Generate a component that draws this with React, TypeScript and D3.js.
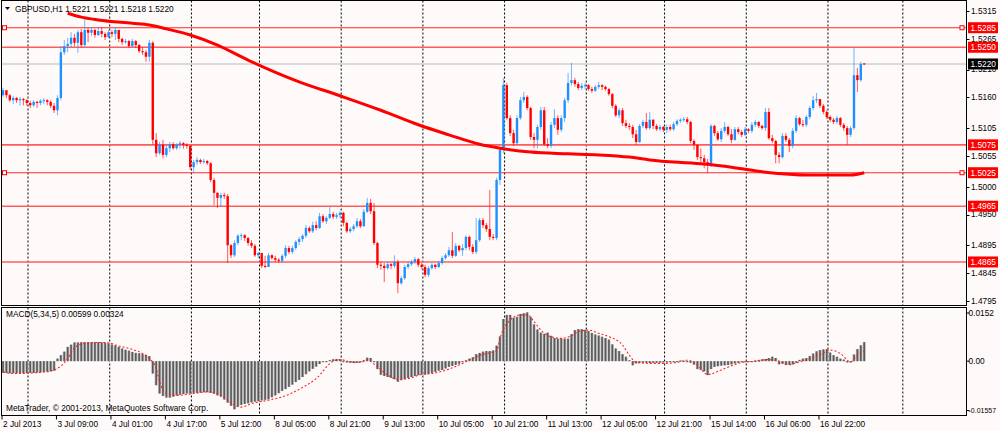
import React from 'react';
import * as d3 from 'd3';

// ---------- DATA ----------
const opens = [1.5164,1.5173,1.5164,1.5155,1.5159,1.5155,1.5157,1.5155,1.5150,1.5146,1.5152,1.5150,1.5154,1.5155,1.5152,1.5145,1.5137,1.5159,1.5241,1.5252,1.5256,1.5267,1.5258,1.5277,1.5254,1.5281,1.5276,1.5281,1.5272,1.5279,1.5274,1.5268,1.5277,1.5274,1.5281,1.5265,1.5259,1.5261,1.5252,1.5261,1.5254,1.5243,1.5241,1.5233,1.5258,1.5084,1.5060,1.5075,1.5057,1.5069,1.5076,1.5069,1.5075,1.5078,1.5075,1.5073,1.5035,1.5044,1.5048,1.5044,1.5046,1.5042,1.5012,1.4989,1.4980,1.4985,1.4983,1.4895,1.4877,1.4899,1.4912,1.4913,1.4908,1.4899,1.4894,1.4877,1.4881,1.4858,1.4856,1.4877,1.4872,1.4869,1.4867,1.4876,1.4890,1.4883,1.4890,1.4901,1.4906,1.4912,1.4926,1.4920,1.4931,1.4926,1.4947,1.4938,1.4944,1.4951,1.4946,1.4949,1.4953,1.4935,1.4920,1.4924,1.4929,1.4938,1.4929,1.4955,1.4971,1.4956,1.4899,1.4860,1.4858,1.4854,1.4861,1.4858,1.4865,1.4827,1.4836,1.4856,1.4861,1.4865,1.4870,1.4860,1.4856,1.4842,1.4854,1.4860,1.4856,1.4863,1.4872,1.4877,1.4886,1.4876,1.4894,1.4886,1.4890,1.4910,1.4892,1.4883,1.4904,1.4940,1.4931,1.4924,1.4910,1.4908,1.5012,1.5066,1.5182,1.5123,1.5096,1.5078,1.5123,1.5155,1.5161,1.5141,1.5089,1.5084,1.5107,1.5137,1.5076,1.5073,1.5111,1.5123,1.5102,1.5123,1.5155,1.5186,1.5191,1.5184,1.5177,1.5181,1.5182,1.5175,1.5172,1.5179,1.5182,1.5179,1.5175,1.5166,1.5145,1.5128,1.5137,1.5114,1.5109,1.5107,1.5094,1.5080,1.5109,1.5116,1.5105,1.5120,1.5109,1.5103,1.5107,1.5102,1.5107,1.5103,1.5112,1.5118,1.5120,1.5121,1.5116,1.5082,1.5075,1.5053,1.5051,1.5044,1.5039,1.5109,1.5096,1.5085,1.5100,1.5107,1.5094,1.5084,1.5103,1.5098,1.5093,1.5103,1.5100,1.5111,1.5116,1.5109,1.5105,1.5134,1.5087,1.5082,1.5057,1.5053,1.5091,1.5084,1.5073,1.5100,1.5123,1.5112,1.5111,1.5125,1.5141,1.5155,1.5157,1.5145,1.5134,1.5125,1.5120,1.5116,1.5123,1.5111,1.5105,1.5093,1.5105,1.5200,1.5191,1.5221];
const highs = [1.5177,1.5173,1.5166,1.5163,1.5161,1.5161,1.5159,1.5157,1.5154,1.5155,1.5154,1.5157,1.5159,1.5157,1.5155,1.5150,1.5164,1.5252,1.5263,1.5267,1.5277,1.5274,1.5281,1.5283,1.5302,1.5285,1.5286,1.5283,1.5285,1.5286,1.5277,1.5281,1.5281,1.5285,1.5281,1.5267,1.5265,1.5263,1.5265,1.5263,1.5256,1.5250,1.5245,1.5263,1.5261,1.5096,1.5080,1.5084,1.5075,1.5080,1.5080,1.5078,1.5082,1.5080,1.5078,1.5075,1.5048,1.5053,1.5050,1.5050,1.5048,1.5044,1.5016,1.4990,1.4989,1.4989,1.4987,1.4897,1.4904,1.4915,1.4917,1.4915,1.4910,1.4904,1.4897,1.4883,1.4881,1.4876,1.4881,1.4879,1.4876,1.4872,1.4879,1.4895,1.4894,1.4894,1.4904,1.4910,1.4915,1.4931,1.4929,1.4937,1.4938,1.4953,1.4951,1.4947,1.4964,1.4955,1.4953,1.4956,1.4955,1.4937,1.4928,1.4933,1.4944,1.4942,1.4960,1.4980,1.4978,1.4971,1.4901,1.4865,1.4863,1.4865,1.4863,1.4877,1.4869,1.4840,1.4860,1.4865,1.4869,1.4874,1.4872,1.4863,1.4860,1.4858,1.4863,1.4861,1.4867,1.4876,1.4881,1.4892,1.4919,1.4899,1.4895,1.4897,1.4913,1.4912,1.4897,1.4944,1.4944,1.4944,1.4935,1.4994,1.4915,1.5016,1.5069,1.5195,1.5186,1.5128,1.5102,1.5128,1.5161,1.5170,1.5164,1.5143,1.5096,1.5111,1.5143,1.5143,1.5087,1.5116,1.5139,1.5128,1.5128,1.5159,1.5204,1.5222,1.5195,1.5188,1.5186,1.5186,1.5184,1.5179,1.5182,1.5188,1.5184,1.5181,1.5177,1.5168,1.5148,1.5141,1.5141,1.5120,1.5114,1.5111,1.5102,1.5112,1.5120,1.5132,1.5134,1.5121,1.5112,1.5111,1.5109,1.5111,1.5111,1.5116,1.5121,1.5123,1.5125,1.5125,1.5118,1.5085,1.5076,1.5069,1.5057,1.5050,1.5112,1.5111,1.5100,1.5105,1.5116,1.5109,1.5103,1.5107,1.5107,1.5102,1.5107,1.5105,1.5116,1.5120,1.5118,1.5111,1.5141,1.5141,1.5093,1.5084,1.5062,1.5096,1.5096,1.5087,1.5105,1.5128,1.5125,1.5120,1.5128,1.5145,1.5163,1.5168,1.5157,1.5148,1.5137,1.5128,1.5123,1.5127,1.5125,1.5114,1.5109,1.5109,1.5249,1.5213,1.5224,1.5221];
const lows = [1.5161,1.5159,1.5152,1.5148,1.5150,1.5145,1.5146,1.5145,1.5141,1.5143,1.5141,1.5146,1.5148,1.5146,1.5141,1.5132,1.5128,1.5155,1.5236,1.5241,1.5249,1.5252,1.5240,1.5250,1.5250,1.5259,1.5270,1.5267,1.5270,1.5268,1.5263,1.5267,1.5268,1.5263,1.5259,1.5254,1.5256,1.5249,1.5250,1.5249,1.5240,1.5236,1.5224,1.5224,1.5075,1.5053,1.5057,1.5051,1.5053,1.5062,1.5066,1.5066,1.5068,1.5068,1.5068,1.5030,1.5025,1.5039,1.5041,1.5041,1.5039,1.5008,1.4967,1.4962,1.4964,1.4978,1.4863,1.4872,1.4874,1.4895,1.4904,1.4903,1.4894,1.4890,1.4874,1.4872,1.4854,1.4854,1.4856,1.4869,1.4865,1.4863,1.4863,1.4872,1.4879,1.4879,1.4886,1.4895,1.4901,1.4908,1.4917,1.4917,1.4922,1.4924,1.4935,1.4933,1.4942,1.4942,1.4942,1.4944,1.4929,1.4917,1.4917,1.4920,1.4926,1.4926,1.4928,1.4953,1.4951,1.4895,1.4854,1.4851,1.4829,1.4851,1.4852,1.4854,1.4809,1.4824,1.4833,1.4852,1.4858,1.4861,1.4856,1.4852,1.4838,1.4838,1.4851,1.4852,1.4854,1.4860,1.4869,1.4874,1.4872,1.4874,1.4883,1.4876,1.4886,1.4886,1.4879,1.4879,1.4901,1.4926,1.4919,1.4904,1.4904,1.4904,1.5003,1.5060,1.5120,1.5091,1.5073,1.5075,1.5120,1.5150,1.5137,1.5084,1.5069,1.5069,1.5102,1.5073,1.5069,1.5069,1.5105,1.5093,1.5098,1.5116,1.5150,1.5181,1.5179,1.5173,1.5173,1.5175,1.5172,1.5168,1.5170,1.5175,1.5173,1.5172,1.5163,1.5141,1.5125,1.5123,1.5109,1.5105,1.5102,1.5087,1.5075,1.5078,1.5105,1.5102,1.5102,1.5103,1.5100,1.5100,1.5098,1.5096,1.5100,1.5100,1.5109,1.5114,1.5116,1.5112,1.5078,1.5066,1.5048,1.5044,1.5033,1.5025,1.5035,1.5091,1.5082,1.5080,1.5096,1.5091,1.5078,1.5082,1.5094,1.5089,1.5091,1.5096,1.5096,1.5107,1.5105,1.5102,1.5100,1.5084,1.5078,1.5042,1.5042,1.5050,1.5080,1.5062,1.5069,1.5096,1.5109,1.5107,1.5107,1.5121,1.5137,1.5150,1.5141,1.5130,1.5121,1.5116,1.5112,1.5112,1.5107,1.5100,1.5075,1.5089,1.5102,1.5170,1.5188,1.5218];
const closes = [1.5173,1.5164,1.5155,1.5159,1.5155,1.5157,1.5155,1.5150,1.5146,1.5152,1.5150,1.5154,1.5155,1.5152,1.5145,1.5137,1.5159,1.5241,1.5252,1.5256,1.5267,1.5258,1.5277,1.5254,1.5281,1.5276,1.5281,1.5272,1.5279,1.5274,1.5268,1.5277,1.5274,1.5281,1.5265,1.5259,1.5261,1.5252,1.5261,1.5254,1.5243,1.5241,1.5233,1.5258,1.5084,1.5060,1.5075,1.5057,1.5069,1.5076,1.5069,1.5075,1.5078,1.5075,1.5073,1.5035,1.5044,1.5048,1.5044,1.5046,1.5042,1.5012,1.4989,1.4980,1.4985,1.4983,1.4895,1.4877,1.4899,1.4912,1.4913,1.4908,1.4899,1.4894,1.4877,1.4881,1.4858,1.4856,1.4877,1.4872,1.4869,1.4867,1.4876,1.4890,1.4883,1.4890,1.4901,1.4906,1.4912,1.4926,1.4920,1.4931,1.4926,1.4947,1.4938,1.4944,1.4951,1.4946,1.4949,1.4953,1.4935,1.4920,1.4924,1.4929,1.4938,1.4929,1.4955,1.4971,1.4956,1.4899,1.4860,1.4858,1.4854,1.4861,1.4858,1.4865,1.4827,1.4836,1.4856,1.4861,1.4865,1.4870,1.4860,1.4856,1.4842,1.4854,1.4860,1.4856,1.4863,1.4872,1.4877,1.4886,1.4876,1.4894,1.4886,1.4890,1.4910,1.4892,1.4883,1.4904,1.4940,1.4931,1.4924,1.4910,1.4908,1.5012,1.5066,1.5182,1.5123,1.5096,1.5078,1.5123,1.5155,1.5161,1.5141,1.5089,1.5084,1.5107,1.5137,1.5076,1.5073,1.5111,1.5123,1.5102,1.5123,1.5155,1.5186,1.5191,1.5184,1.5177,1.5181,1.5182,1.5175,1.5172,1.5179,1.5182,1.5179,1.5175,1.5166,1.5145,1.5128,1.5137,1.5114,1.5109,1.5107,1.5094,1.5080,1.5109,1.5116,1.5105,1.5120,1.5109,1.5103,1.5107,1.5102,1.5107,1.5103,1.5112,1.5118,1.5120,1.5121,1.5116,1.5082,1.5075,1.5053,1.5051,1.5044,1.5039,1.5109,1.5096,1.5085,1.5100,1.5107,1.5094,1.5084,1.5103,1.5098,1.5093,1.5103,1.5100,1.5111,1.5116,1.5109,1.5105,1.5134,1.5087,1.5082,1.5057,1.5053,1.5091,1.5084,1.5073,1.5100,1.5123,1.5112,1.5111,1.5125,1.5141,1.5155,1.5157,1.5145,1.5134,1.5125,1.5120,1.5116,1.5123,1.5111,1.5105,1.5093,1.5105,1.5200,1.5191,1.5220,1.5220];

const maBars = [19,23,28,38,43,48,55,63,72,87,99,111,122,131,140,146,155,166,175,184,190,205,214,224,237,249,253];
const maValues = [1.5311,1.5304,1.5299,1.5293,1.5290,1.5283,1.5272,1.5254,1.5227,1.5188,1.5163,1.5137,1.5111,1.5093,1.5076,1.5069,1.5062,1.5059,1.5057,1.5053,1.5048,1.5041,1.5035,1.5026,1.5021,1.5021,1.5025];

const macdHist = [-0.0037,-0.0037,-0.0038,-0.0038,-0.0038,-0.0038,-0.0038,-0.0038,-0.0037,-0.0037,-0.0036,-0.0035,-0.0034,-0.0033,-0.0032,-0.0030,
0.0008,0.0019,0.0030,0.0045,0.0052,0.0059,0.0059,0.0060,0.0060,0.0060,0.0060,0.0060,0.0060,0.0059,0.0058,0.0056,
0.0052,0.0049,0.0045,0.0040,0.0036,0.0033,0.0029,0.0026,0.0025,0.0022,0.0020,0.0016,-0.0039,-0.0076,-0.0102,-0.0110,
-0.0115,-0.0115,-0.0112,-0.0108,-0.0106,-0.0104,-0.0102,-0.0101,-0.0100,-0.0100,-0.0099,-0.0098,-0.0098,-0.0100,-0.0103,-0.0108,
-0.0112,-0.0121,-0.0131,-0.0141,-0.0152,-0.0143,-0.0138,-0.0135,-0.0133,-0.0130,-0.0128,-0.0126,-0.0124,-0.0122,-0.0120,-0.0114,
-0.0108,-0.0101,-0.0094,-0.0088,-0.0081,-0.0074,-0.0066,-0.0059,-0.0050,-0.0041,-0.0032,-0.0024,-0.0017,-0.0009,-0.0003,0.0000,
0.0003,0.0006,0.0007,0.0006,-0.0001,-0.0004,-0.0005,-0.0006,-0.0005,-0.0002,0.0003,0.0011,0.0010,-0.0001,-0.0025,-0.0043,
-0.0047,-0.0050,-0.0053,-0.0057,-0.0065,-0.0060,-0.0057,-0.0053,-0.0050,-0.0047,-0.0044,-0.0042,-0.0042,-0.0040,-0.0037,-0.0034,
-0.0030,-0.0028,-0.0023,-0.0018,-0.0015,-0.0012,-0.0008,-0.0003,0.0003,0.0008,0.0012,0.0022,0.0026,0.0030,0.0032,0.0032,
0.0034,0.0049,0.0078,0.0133,0.0146,0.0146,0.0137,0.0140,0.0149,0.0151,0.0154,0.0140,0.0116,0.0100,0.0090,0.0086,
0.0090,0.0080,0.0073,0.0071,0.0072,0.0070,0.0071,0.0085,0.0098,0.0101,0.0101,0.0099,0.0095,0.0089,0.0084,0.0081,
0.0077,0.0073,0.0068,0.0053,0.0040,0.0032,0.0022,0.0014,0.0003,-0.0013,-0.0007,-0.0005,-0.0005,-0.0005,-0.0006,-0.0005,
-0.0005,-0.0005,-0.0004,-0.0004,-0.0003,-0.0003,-0.0001,0.0002,0.0001,-0.0002,-0.0005,-0.0011,-0.0025,-0.0028,-0.0032,-0.0044,
-0.0025,-0.0018,-0.0016,-0.0014,-0.0013,-0.0012,-0.0010,-0.0007,-0.0005,-0.0003,-0.0002,-0.0002,0.0000,0.0002,0.0004,0.0006,
0.0007,0.0010,0.0014,0.0010,-0.0010,-0.0008,-0.0012,-0.0011,-0.0010,-0.0005,0.0004,0.0008,0.0010,0.0016,0.0024,0.0031,
0.0035,0.0037,0.0038,0.0027,0.0019,0.0014,0.0008,0.0005,-0.0004,-0.0004,0.0021,0.0038,0.0050,0.0060];

const signalBars = [0,3,9,14,16,19,21,24,28,31,33,38,41,43,45,46,48,51,56,60,63,66,68,70,73,78,82,87,92,97,99,102,105,107,110,113,116,119,123,126,131,136,139,142,145,146,149,152,154,156,158,161,164,167,169,172,175,178,182,184,186,190,194,198,201,204,207,212,218,222,224,227,231,234,238,241,243,246,249,251,253];
const signalValues = [-0.0034,-0.0039,-0.0037,-0.0031,-0.0023,0.0008,0.0042,0.0056,0.0059,0.0058,0.0051,0.0037,0.0024,0.0008,-0.0023,-0.0065,-0.0102,-0.0108,-0.0102,-0.0097,-0.0102,-0.0123,-0.0139,-0.0145,-0.0134,-0.0123,-0.0113,-0.0089,-0.0055,0.0000,0.0005,-0.0002,-0.0004,0.0003,-0.0018,-0.0044,-0.0057,-0.0055,-0.0042,-0.0039,-0.0025,-0.0002,0.0014,0.0024,0.0032,0.0072,0.0130,0.0146,0.0146,0.0125,0.0098,0.0077,0.0072,0.0080,0.0093,0.0098,0.0088,0.0077,0.0051,0.0019,-0.0004,-0.0007,-0.0007,-0.0004,0.0003,-0.0013,-0.0042,-0.0023,-0.0002,0.0000,0.0005,0.0003,-0.0011,-0.0002,0.0011,0.0026,0.0035,0.0024,-0.0002,0.0019,0.0032];

const priceTicks = [1.5315,1.5265,1.5210,1.5160,1.5105,1.5055,1.5000,1.4950,1.4895,1.4845,1.4795];
const hLevels = [1.5285,1.5250,1.5075,1.5025,1.4965,1.4865];
const hSelected = [true,false,false,true,false,false];
const bidPrice = 1.5220;
const macdTicks = [0.0152,0,-0.01557];
const macdTickLabels = ['0.0152','0.00','-0.01557'];
const daySepBars = [7,31,55,75,99,123,147,171,194,218,242,264];
const timeTickBars = [0,16,32,48,64,80,96,112,128,144,160,176,192,208,224,240];
const timeLabels = ['2 Jul 2013','3 Jul 09:00','4 Jul 01:00','4 Jul 17:00','5 Jul 12:00','8 Jul 05:00','8 Jul 21:00','9 Jul 13:00','10 Jul 05:00','10 Jul 21:00','11 Jul 13:00','12 Jul 05:00','12 Jul 21:00','15 Jul 14:00','16 Jul 06:00','16 Jul 22:00'];

const FONT = "'Liberation Sans', Arial, sans-serif";

export default function App() {
  const W = 1000, H = 431;
  const L = 1.5, R = 966.5, mainT = 0.5, mainB = 305.5, macdT = 307.5, macdB = 415.5;
  const x = d3.scaleLinear().domain([0, 283]).range([3, 3 + 283 * 3.404]);
  const y = d3.scaleLinear().domain([1.4795, 1.5315]).range([301, 11]);
  const ym = d3.scaleLinear().domain([-0.01557, 0.0152]).range([410.5, 313]);
  const fmt = d3.format('.4f');

  const maLine = d3.line<number>().x((_, i) => x(maBars[i])).y((v) => y(v)).curve(d3.curveMonotoneX)(maValues) || '';
  const sigLine = d3.line<number>().x((_, i) => x(signalBars[i])).y((v) => ym(v)).curve(d3.curveMonotoneX)(signalValues) || '';

  const blue = '#1e90ff', red = '#ff0000';

  return (
    <svg width={W} height={H} style={{ position: 'absolute', left: 0, top: 0, background: '#fffafa' }} fontFamily={FONT}>
      <defs>
        <clipPath id="mainClip"><rect x={L} y={mainT} width={R - L} height={mainB - mainT} /></clipPath>
        <clipPath id="macdClip"><rect x={L} y={macdT} width={R - L} height={macdB - macdT} /></clipPath>
      </defs>
      <rect x={0} y={0} width={W} height={H} fill="#fffafa" />

      {daySepBars.map((b, i) => (
        <g key={'g' + i}>
          <line x1={x(b) + 1.2} x2={x(b) + 1.2} y1={mainT} y2={mainB} stroke="#000" strokeDasharray="2,2" strokeWidth={1} />
          <line x1={x(b) + 1.2} x2={x(b) + 1.2} y1={macdT} y2={macdB} stroke="#000" strokeDasharray="2,2" strokeWidth={1} />
        </g>
      ))}

      <g clipPath="url(#mainClip)">
        <line x1={L} x2={R} y1={y(bidPrice)} y2={y(bidPrice)} stroke="#cfcfcf" strokeWidth={1.5} />
        {hLevels.map((p, i) => (
          <line key={'h' + i} x1={L} x2={R} y1={y(p)} y2={y(p)} stroke={hSelected[i] ? '#ff2a2a' : '#ff5c5c'} strokeWidth={hSelected[i] ? 1.2 : 1.6} />
        ))}
        {closes.map((c, i) => {
          const o = opens[i], up = c >= o;
          const col = up ? blue : red;
          const cx = x(i);
          const top = y(Math.max(o, c)), bot = y(Math.min(o, c));
          return (
            <g key={'c' + i}>
              <line x1={cx} x2={cx} y1={y(highs[i])} y2={y(lows[i])} stroke={col} strokeOpacity={0.65} strokeWidth={1} />
              <rect x={cx - 1.2} y={top} width={2.4} height={Math.max(1, bot - top)} fill={col} />
            </g>
          );
        })}
        <path d={maLine} fill="none" stroke="#ff0000" strokeWidth={3} />
        {hLevels.map((p, i) => hSelected[i] ? (
          <g key={'s' + i}>
            <rect x={2.5} y={y(p) - 2} width={4} height={4} fill="#fffafa" stroke="#ff0000" strokeWidth={1} />
            <rect x={960} y={y(p) - 2} width={4} height={4} fill="#fffafa" stroke="#ff0000" strokeWidth={1} />
          </g>
        ) : null)}
      </g>

      <g clipPath="url(#macdClip)">
        {macdHist.map((v, i) => {
          const y0 = ym(0), y1 = ym(v);
          const t = Math.min(y0, y1), h = Math.max(1, Math.abs(y1 - y0));
          return (
            <g key={'m' + i}>
              <rect x={x(i) - 1.5} y={t} width={3} height={h} fill="#b8b8b8" />
              <rect x={x(i) - 0.8} y={t} width={1.6} height={h} fill="#5a5a5a" />
            </g>
          );
        })}
        <path d={sigLine} fill="none" stroke="#ff2020" strokeWidth={1.1} strokeDasharray="2,2" />
      </g>

      <rect x={L} y={mainT} width={R - L} height={mainB - mainT} fill="none" stroke="#000" strokeWidth={1} />
      <rect x={L} y={macdT} width={R - L} height={macdB - macdT} fill="none" stroke="#000" strokeWidth={1} />

      <path d="M5,7 L10,7 L7.5,10 Z" fill="#000" />
      <text x={15} y={12} fontSize={8.3} fill="#000">GBPUSD,H1  1.5221 1.5221 1.5218 1.5220</text>
      <text x={6} y={317} fontSize={8.3} fill="#000">MACD(5,34,5) 0.00599 0.00324</text>
      <text x={6} y={411} fontSize={8.3} fill="#000">MetaTrader, © 2001-2013, MetaQuotes Software Corp.</text>

      {priceTicks.map((p, i) => (
        <g key={'pt' + i}>
          <line x1={R} x2={R + 3} y1={Math.round(y(p)) + 0.5} y2={Math.round(y(p)) + 0.5} stroke="#000" />
          <text x={971} y={y(p)} dy="0.35em" fontSize={8.3} fill="#000">{fmt(p)}</text>
        </g>
      ))}
      {hLevels.map((p, i) => (
        <g key={'hl' + i}>
          <rect x={968} y={y(p) - 5.5} width={30} height={11} fill="#ff0000" />
          <text x={970.5} y={y(p)} dy="0.35em" fontSize={8.3} fill="#fff">{fmt(p)}</text>
        </g>
      ))}
      <rect x={968} y={y(bidPrice) - 5.5} width={30} height={11} fill="#000" />
      <text x={970.5} y={y(bidPrice)} dy="0.35em" fontSize={8.3} fill="#fff">{fmt(bidPrice)}</text>

      {macdTicks.map((v, i) => (
        <g key={'mt' + i}>
          <line x1={R} x2={R + 3} y1={ym(v)} y2={ym(v)} stroke="#000" />
          <text x={968.5} y={ym(v)} dy="0.35em" fontSize={macdTickLabels[i].length > 6 ? 7.8 : 8.3} fill="#000"
            textLength={macdTickLabels[i].length > 6 ? 27.5 : undefined} lengthAdjust="spacingAndGlyphs">{macdTickLabels[i]}</text>
        </g>
      ))}

      {timeTickBars.map((b, i) => (
        <g key={'tt' + i}>
          <line x1={x(b) - 1} x2={x(b) - 1} y1={macdB} y2={macdB + 4} stroke="#000" />
          <text x={x(b)} y={427} fontSize={8.3} fill="#000">{timeLabels[i]}</text>
        </g>
      ))}
    </svg>
  );
}
